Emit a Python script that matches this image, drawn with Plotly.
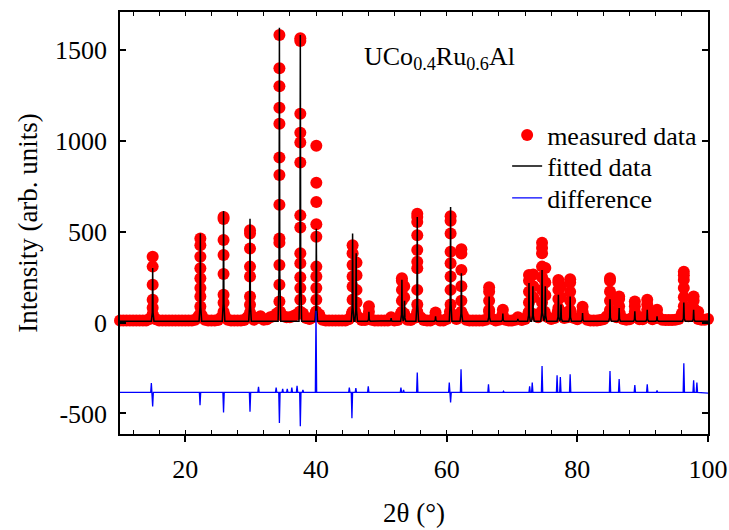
import numpy as np
import plotly.graph_objects as go

# ---------------- data ----------------
# measured pattern: background/flank points on the 0.5 deg 2-theta grid
base_x = np.arange(10.0, 100.01, 0.5)
base_y = [
    12, 12, 12, 12, 12, 12, 12, 12, 12, 20, 45, 18, 12, 12, 12, 12, 12, 12, 12, 12,   # 10-19.5
    12, 12, 12, 15, 35, 40, 15, 12, 12, 12, 14, 30, 40, 15, 12, 12, 12, 12, 14, 30,   # 20-29.5
    40, 15, 25, 35, 15, 18, 30, 35, 50, 60, 35, 30, 30, 35, 45, 60, 50, 25, 20, 30,   # 30-39.5
    60, 45, 15, 12, 12, 12, 12, 12, 12, 12, 18, 50, 60, 30, 14, 14, 35, 15, 12, 12,   # 40-49.5
    12, 12, 12, 25, 12, 14, 50, 50, 16, 14, 25, 60, 30, 14, 12, 12, 20, 25, 12, 12,   # 50-59.5
    20, 60, 40, 20, 40, 40, 15, 12, 12, 12, 12, 12, 15, 60, 20, 12, 15, 40, 15, 12,   # 60-69.5
    12, 15, 25, 14, 20, 50, 50, 45, 30, 60, 60, 30, 20, 25, 60, 60, 25, 30, 60, 25,   # 70-79.5
    18, 30, 35, 15, 12, 12, 12, 14, 18, 35, 60, 40, 30, 50, 20, 15, 18, 30, 40, 18,   # 80-89.5
    18, 40, 35, 18, 25, 25, 15, 14, 14, 14, 16, 20, 50, 60, 35, 40, 35, 20, 15, 15, 20  # 90-100
]

# measured pattern: points on the Bragg peaks (centre, intensities of the dots)
stack_x = [15.0, 22.3, 25.85, 29.9, 34.4, 37.6, 40.05, 45.6, 46.2, 48.1, 51.5,
           53.15, 53.5, 55.5, 58.3, 60.6, 62.25, 66.5, 68.6, 70.9, 72.6, 73.25,
           74.6, 75.1, 77.1, 77.45, 78.9, 80.8, 85.0, 86.4, 88.8, 90.7, 92.2,
           96.3, 97.8, 98.5]
stack_y = [
    [362, 308, 208, 126, 82, 45],
    [463, 426, 362, 299, 244, 190, 144, 89, 50],
    [581, 570, 454, 372, 268, 153, 109, 60],
    [508, 490, 408, 308, 253, 144, 98, 55],
    [1583, 1400, 1301, 1182, 1094, 909, 812, 649, 463, 440, 317, 208, 116, 60],
    [1565, 1550, 1149, 1045, 991, 881, 590, 523, 381, 326, 250, 190, 126, 60],
    [973, 769, 663, 541, 472, 308, 253, 190, 126, 60],
    [426, 381, 317, 253, 198, 126, 60],
    [330, 260, 180, 110],
    [90, 60],
    [30],
    [244, 230, 180, 120, 60],
    [200, 140],
    [599, 581, 554, 481, 399, 335, 299, 180, 100, 50],
    [55],
    [585, 560, 490, 390, 326, 253, 180, 100, 50],
    [403, 380, 290, 200, 120, 60],
    [195, 170, 120, 70],
    [71, 40],
    [30],
    [262, 230, 170, 110, 60],
    [265, 200, 140],
    [439, 410, 381, 308, 250, 180, 110, 60],
    [300, 220, 150],
    [235, 220, 180, 130, 80],
    [200, 140],
    [239, 220, 170, 120, 70],
    [87, 60],
    [244, 230, 171, 120, 70],
    [144, 130, 90],
    [116, 90, 60],
    [126, 100, 70],
    [71, 45],
    [280, 260, 235, 190, 140, 90],
    [144, 120, 80],
    [60],
]

# fitted pattern: reflection positions and peak heights
fit_base = 8
fit_x = [15.0, 22.3, 25.85, 29.9, 34.4, 37.6, 40.05, 45.6, 46.15, 48.1, 51.5,
         53.15, 53.55, 55.5, 58.3, 60.6, 62.25, 66.5, 68.6, 70.9, 72.6, 73.2,
         74.6, 75.1, 77.1, 77.5, 78.9, 80.8, 85.0, 86.4, 88.8, 90.7, 92.2,
         96.3, 97.8]
fit_h = [300, 490, 614, 572, 1623, 1583, 517, 490, 382, 60, 25,
         235, 120, 581, 35, 636, 271, 144, 50, 20, 218, 200,
         290, 200, 153, 100, 144, 53, 129, 80, 62, 71, 35,
         111, 71]

# difference curve (offset): baseline and spike extremes
diff_base = -384
diff_x = [14.8, 15.0, 22.25, 25.85, 29.9, 31.2, 33.9, 34.4, 34.9, 35.6, 36.3,
          37.1, 37.6, 38.0, 40.0, 45.1, 45.5, 46.1, 48.0, 53.0, 53.4, 55.5,
          60.4, 60.6, 62.2, 66.4, 68.7, 72.7, 73.1, 74.6, 76.9, 77.4, 78.9,
          85.0, 86.4, 88.8, 90.7, 92.2, 96.3, 97.8, 98.3]
diff_y = [-333, -461, -454, -494, -490, -353, -357, -552, -364, -365, -357,
          -348, -570, -370, 65, -357, -526, -360, -351, -357, -370, -275,
          -330, -439, -257, -339, -378, -351, -330, -239, -290, -300, -284,
          -266, -311, -344, -339, -373, -224, -317, -330]

x_range = [10, 100]
y_range = [-613, 1709]
y_ticks = [-500, 0, 500, 1000, 1500]
y_labels = ["-500", "0", "500", "1000", "1500"]

# ---------------- build traces ----------------
meas_x = list(base_x)
meas_y = list(base_y)
for cx, ys in zip(stack_x, stack_y):
    meas_x += [cx] * len(ys)
    meas_y += ys

HW_BASE, HW_MID, MID_FRAC = 0.2, 0.06, 0.16
fx, fy = [x_range[0]], [fit_base]
for cx, h in sorted(zip(fit_x, fit_h)):
    m = fit_base + MID_FRAC * (h - fit_base)
    fx += [cx - HW_BASE, cx - HW_MID, cx, cx + HW_MID, cx + HW_BASE]
    fy += [fit_base, m, h, m, fit_base]
fx.append(x_range[1]); fy.append(fit_base)

D_HW = 0.1
dx, dy = [x_range[0]], [diff_base]
for cx, v in sorted(zip(diff_x, diff_y)):
    dx += [cx - D_HW, cx, cx + D_HW]
    dy += [diff_base, v, diff_base]
dx.append(x_range[1]); dy.append(diff_base - 4)

FONT = "Liberation Serif"
TICKFONT = dict(family=FONT, size=26, color="black")

fig = go.Figure()
fig.add_trace(go.Scatter(x=meas_x, y=meas_y, mode="markers", name="measured data",
                         marker=dict(color="#ff0000", size=12, line=dict(width=0)),
                         cliponaxis=False, legend="legend"))
fig.add_trace(go.Scatter(x=fx, y=fy, mode="lines", name="fitted data",
                         line=dict(color="black", width=1.5), legend="legend2"))
fig.add_trace(go.Scatter(x=dx, y=dy, mode="lines", name="difference",
                         line=dict(color="#0000ff", width=1.3), legend="legend3"))
fig.add_trace(go.Scatter(x=[], y=[], xaxis="x2", showlegend=False, hoverinfo="skip"))

def leg(yc):
    return dict(x=0.6584, y=yc, xanchor="left", yanchor="middle",
                bgcolor="rgba(0,0,0,0)", font=dict(family=FONT, size=26))

fig.update_layout(
    width=729, height=530,
    margin=dict(l=120, r=21, t=12, b=96),
    paper_bgcolor="white", plot_bgcolor="white",
    font=dict(family=FONT, size=26, color="black"),
    showlegend=True,
    legend=leg(0.7082), legend2=leg(0.6349), legend3=leg(0.5592),
    xaxis=dict(range=x_range, showgrid=False, zeroline=False, automargin=False,
               showline=True, linecolor="black", linewidth=1.5, mirror=True,
               tickmode="linear", tick0=0, dtick=20, tickfont=TICKFONT,
               ticks="outside", ticklen=6, tickwidth=1.5, tickcolor="black",
               ticklabelstandoff=5,
               minor=dict(ticks="inside", tickmode="linear", tick0=0, dtick=4,
                          ticklen=4, tickwidth=1.2, tickcolor="black", showgrid=False),
               title=dict(text="2θ (°)", font=dict(family=FONT, size=27), standoff=20)),
    xaxis2=dict(range=x_range, overlaying="x", side="top", anchor="y", automargin=False,
                showgrid=False, zeroline=False, showticklabels=False, showline=False,
                tickmode="linear", tick0=0, dtick=4,
                ticks="inside", ticklen=4, tickwidth=1.2, tickcolor="black"),
    yaxis=dict(range=y_range, showgrid=False, zeroline=False, automargin=False,
               showline=True, linecolor="black", linewidth=1.5, mirror="ticks",
               tickmode="array", tickvals=y_ticks, ticktext=y_labels, tickfont=TICKFONT,
               ticks="inside", ticklen=6, tickwidth=1.5, tickcolor="black",
               ticklabelstandoff=6,
               title=dict(text="Intensity (arb. units)", font=dict(family=FONT, size=27),
                          standoff=10)),
    annotations=[dict(text="UCo<sub>0.4</sub>Ru<sub>0.6</sub>Al",
                      xref="paper", yref="paper", x=0.411, y=0.89,
                      xanchor="left", yanchor="middle", showarrow=False,
                      font=dict(family=FONT, size=26))],
)

fig.write_html("out.html")
